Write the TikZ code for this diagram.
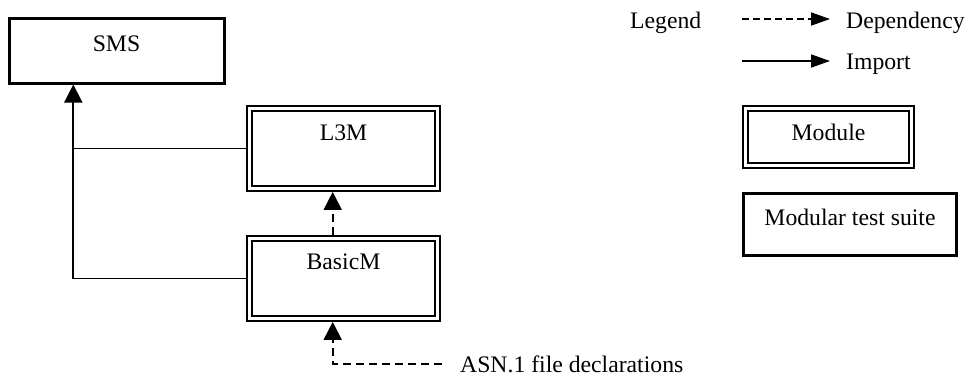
\documentclass[tikz,border=0pt]{standalone}
\usepackage{fontspec}
\setmainfont{Liberation Serif}
\usetikzlibrary{arrows.meta}

\begin{document}
\begin{tikzpicture}[x=1pt, y=-1pt, font=\fontsize{23.7}{28}\selectfont,
  suite/.style={draw, line width=3pt, inner sep=0pt, text height=16pt},
  modbox/.style={draw, line width=2.2pt, double, double distance=2.4pt,
    inner sep=0pt, outer sep=3.4pt, text height=16pt},
  imp/.style={line width=1.7pt, -{Triangle[length=18pt, width=18pt]}},
  dep/.style={imp, dash pattern=on 8pt off 5pt},
  leg/.style={line width=1.7pt, -{Triangle[length=19pt, width=13pt]}}]
\useasboundingbox (0,0) rectangle (965,376);

%modules
  \node[suite, minimum width=215pt, minimum height=65pt, text depth=13.2pt] (S) at (116.5,50.5) {SMS};
  \node[modbox, minimum width=188pt, minimum height=80pt, text depth=31.2pt] (L) at (343.5,148.5) {L3M};
  \node[modbox, minimum width=188pt, minimum height=80pt, text depth=34pt] (B) at (343.5,278.5) {BasicM};
  \node[anchor=base west, inner sep=0pt] (N) at (460,372) {ASN.1 file declarations};

%imports
  \coordinate (J) at (73.3,0);
  \draw[imp] (B.west) -| (J |- S.south);
  \draw[line width=1.7pt] (L.west) -- (L.west -| J);

%dependencies
  \draw[dep] ([xshift=-10.8pt]B.north) -- ([xshift=-10.8pt]L.south);
  \draw[dep] ([xshift=-18pt]N.west) -| ([xshift=-10.8pt]B.south);

%legend
  \node[anchor=base west, inner sep=0pt] (Lg) at (630,28) {Legend};
  \node[anchor=base west, inner sep=0pt] (D) at (846,28) {Dependency};
  \node[anchor=base west, inner sep=0pt] (I) at (846,69) {Import};
  \coordinate (d0) at (742,19);
  \coordinate (d1) at (830,19);
  \coordinate (i0) at (742,61);
  \coordinate (i1) at (830,61);
  \draw[leg, dash pattern=on 7pt off 4pt] (d0) -- (d1);
  \draw[leg] (i0) -- (i1);
  \node[modbox, minimum width=166pt, minimum height=57pt, text depth=10pt] (M) at (828.5,137) {Module};
  \node[suite, minimum width=213pt, minimum height=62pt, text depth=13pt] (T) at (850,224) {Modular test suite};
\end{tikzpicture}
\end{document}
